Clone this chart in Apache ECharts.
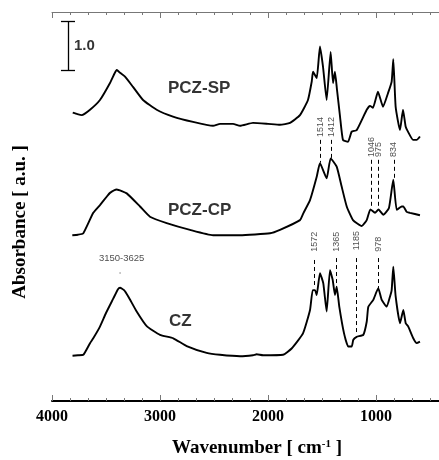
<!DOCTYPE html>
<html><head><meta charset="utf-8">
<script src="https://cdn.jsdelivr.net/npm/echarts/dist/echarts.min.js"></script>
<style>html,body{margin:0;padding:0;background:#fff}#c{width:439px;height:460px}</style>
</head><body><div id="c"></div>
<script>
// Spectra: [wavenumber (cm-1), absorbance (offset)]
const PCZ_SP = [[3808,5.93],[3765,5.90],[3725,5.88],[3648,5.99],[3556,6.19],[3463,6.54],[3420,6.74],[3401,6.81],[3385,6.78],[3370,6.75],[3324,6.67],[3250,6.46],[3157,6.19],[3031,5.99],[2880,5.85],[2694,5.74],[2509,5.66],[2444,5.70],[2324,5.70],[2259,5.66],[2139,5.72],[2000,5.70],[1889,5.68],[1796,5.72],[1704,5.88],[1630,6.19],[1595,6.57],[1583,6.77],[1549,6.64],[1519,7.29],[1491,6.88],[1457,6.19],[1420,7.18],[1398,6.54],[1380,6.77],[1361,6.40],[1333,5.85],[1306,5.37],[1259,5.33],[1225,5.54],[1179,5.57],[1086,5.99],[1056,6.07],[1028,6.03],[982,6.36],[935,6.05],[889,6.33],[855,6.57],[840,7.03],[818,6.05],[778,5.57],[750,5.99],[725,5.64],[704,5.54],[657,5.37],[623,5.37],[593,5.44]];
const PCZ_CP = [[3812,3.41],[3760,3.42],[3710,3.45],[3618,3.87],[3556,4.03],[3494,4.20],[3463,4.28],[3401,4.35],[3308,4.27],[3185,4.00],[3093,3.79],[2938,3.66],[2722,3.52],[2509,3.41],[2259,3.41],[1981,3.45],[1889,3.52],[1704,3.72],[1673,3.86],[1611,4.13],[1549,4.61],[1519,4.89],[1457,4.58],[1420,4.99],[1364,4.82],[1318,4.41],[1271,4.00],[1213,3.72],[1132,3.60],[1086,3.72],[1052,3.94],[1009,3.87],[977,3.94],[933,3.83],[880,3.97],[840,4.55],[808,3.93],[762,4.00],[747,4.00],[716,3.89],[685,3.87],[593,3.82]];
const CZ = [[3810,0.93],[3760,0.94],[3710,0.95],[3648,1.19],[3618,1.29],[3556,1.53],[3500,1.81],[3432,2.11],[3389,2.30],[3370,2.33],[3333,2.28],[3294,2.15],[3216,1.84],[3123,1.54],[3000,1.36],[2877,1.29],[2753,1.13],[2568,0.99],[2444,0.95],[2259,0.92],[2139,0.94],[2105,0.96],[2046,0.94],[1861,0.95],[1781,1.08],[1676,1.39],[1611,1.87],[1586,2.28],[1565,2.28],[1549,2.18],[1519,2.63],[1488,2.42],[1457,1.84],[1426,2.69],[1401,2.49],[1380,2.18],[1364,2.35],[1340,1.94],[1296,1.39],[1257,1.12],[1225,1.12],[1210,1.26],[1179,1.32],[1118,1.36],[1086,1.63],[1071,1.94],[1025,2.08],[979,2.32],[947,2.08],[901,1.94],[870,2.15],[855,2.28],[840,2.76],[818,2.15],[778,1.60],[747,1.87],[725,1.60],[701,1.53],[655,1.29],[623,1.19],[593,1.22]];

// Band annotations
const bandWn      = [1514, 1412, 1046, 975, 834, 1572, 1365, 1185, 978];
const bandTextY   = [5.43, 5.43, 5.02, 5.02, 5.02, 3.07, 3.07, 3.10, 3.07];
const bandLineTop = [5.37, 5.37, 4.96, 4.96, 4.96, 2.90, 2.94, 2.94, 2.94];
const bandLineBot = [4.90, 5.00, 3.99, 3.97, 4.55, 2.35, 2.22, 1.36, 2.32];

// Curve names and positions
const curveNames = ['PCZ-SP', 'PCZ-CP', 'CZ'];
const curveNamePos = [[2926, 6.44], [2926, 3.93], [2917, 1.63]];

// Range note
const rangeNote = '3150-3625';
const rangeNotePos = [3355, 2.94];
const rangeDot = [3370, 2.63];

// Scale bar (1.0 absorbance)
const scaleX = 3852, scaleCapL = 3917, scaleCapR = 3787, scaleLo = 6.8, scaleHi = 7.8;
const scaleLabel = '1.0';

// Axis
const xMin = 0, xMax = 4000, xInterval = 1000;

const chart = echarts.init(document.getElementById('c'), null, {renderer: 'canvas'});

const clear = 'rgba(0,0,0,0)';
const axisBase = {
  type: 'value', inverse: true, min: xMin, max: xMax, interval: xInterval,
  splitLine: {show: false},
  axisTick: {show: true, inside: true, length: 6, lineStyle: {color: '#777', width: 1}},
  minorTick: {show: true, splitNumber: 6, length: 3, lineStyle: {color: '#777', width: 1}},
};

const option = {
  animation: false,
  backgroundColor: '#fff',
  grid: {left: 52, top: 12, width: 432, height: 389, containLabel: false, outerBoundsMode: 'none'},
  xAxis: [
    Object.assign({}, axisBase, {
      position: 'bottom',
      axisLine: {show: true, onZero: false, lineStyle: {color: '#000', width: 2}},
      axisLabel: {show: true, margin: 8, color: '#000', fontFamily: 'Liberation Serif', fontWeight: 'bold', fontSize: 16,
        formatter: v => String(v)}
    }),
    Object.assign({}, axisBase, {
      position: 'top',
      axisLine: {show: true, onZero: false, lineStyle: {color: '#777', width: 1}},
      axisLabel: {show: false}
    })
  ],
  yAxis: {
    type: 'value', min: 0, max: 8,
    axisLine: {show: true, lineStyle: {color: '#777', width: 1}},
    axisTick: {show: false}, axisLabel: {show: false}, splitLine: {show: false}
  },
  series: [
    ...[PCZ_SP, PCZ_CP, CZ].map(d => ({
      type: 'line', data: d, symbol: 'none', smooth: 0.15,
      lineStyle: {color: '#000', width: 1.9}, z: 3
    })),
    {
      type: 'line', data: [], symbol: 'none',
      markLine: {
        silent: true, symbol: 'none', animation: false,
        label: {show: false},
        lineStyle: {color: '#000', width: 1, type: [4, 3]},
        data: bandWn.map((w, i) => [{coord: [w, bandLineTop[i]]}, {coord: [w, bandLineBot[i]]}])
      }
    },
    {
      type: 'line', data: [], symbol: 'none',
      markLine: {
        silent: true, symbol: 'none', animation: false,
        label: {show: false},
        lineStyle: {color: '#000', width: 1.3, type: 'solid'},
        data: [
          [{coord: [scaleCapL, scaleHi]}, {coord: [scaleCapR, scaleHi]}],
          [{coord: [scaleX, scaleHi]}, {coord: [scaleX, scaleLo]}],
          [{coord: [scaleCapL, scaleLo]}, {coord: [scaleCapR, scaleLo]}]
        ]
      }
    },
    {
      // band labels, rotated
      type: 'scatter', symbolSize: 1, itemStyle: {color: clear}, z: 5,
      data: bandWn.map((w, i) => ({value: [w, bandTextY[i]], name: String(w)})),
      label: {
        show: true, rotate: 90, position: 'inside', align: 'left', verticalAlign: 'middle',
        formatter: p => p.name, color: '#222', fontFamily: 'Liberation Sans', fontSize: 9
      }
    },
    {
      // curve names
      type: 'scatter', symbolSize: 1, itemStyle: {color: clear}, z: 5,
      data: curveNames.map((n, i) => ({value: curveNamePos[i], name: n})),
      label: {
        show: true, position: 'inside', align: 'left', verticalAlign: 'middle',
        formatter: p => p.name, color: '#000', fontFamily: 'Liberation Sans', fontWeight: 'bold', fontSize: 17
      }
    },
    {
      // range note + scale label
      type: 'scatter', symbolSize: 1, itemStyle: {color: clear}, z: 5,
      data: [
        {value: rangeNotePos, name: rangeNote, label: {align: 'center', fontSize: 9.5, fontWeight: 'normal', color: '#222'}},
        {value: [scaleCapR + 9, (scaleLo + scaleHi) / 2], name: scaleLabel, label: {align: 'left', fontSize: 15, fontWeight: 'bold', color: '#000'}}
      ],
      label: {
        show: true, position: 'inside', verticalAlign: 'middle',
        formatter: p => p.name, fontFamily: 'Liberation Sans'
      }
    },
    {
      type: 'scatter', symbolSize: 1.5, itemStyle: {color: '#666'},
      data: [rangeDot]
    }
  ],
  graphic: [
    {
      type: 'text', x: 257, y: 448,
      style: {
        text: '{a|Wavenumber [ cm}{s|-1}{a| ]}',
        textAlign: 'center', textVerticalAlign: 'middle',
        rich: {
          a: {fontFamily: 'Liberation Serif', fontWeight: 'bold', fontSize: 19, fill: '#000', color: '#000'},
          s: {fontFamily: 'Liberation Serif', fontWeight: 'bold', fontSize: 11, fill: '#000', color: '#000', verticalAlign: 'top', padding: [0, 0, 8, 0]}
        }
      }
    },
    {
      type: 'text', x: 20, y: 222, rotation: Math.PI / 2,
      style: {
        text: 'Absorbance [ a.u. ]',
        textAlign: 'center', textVerticalAlign: 'middle',
        fontFamily: 'Liberation Serif', fontWeight: 'bold', fontSize: 19, fill: '#000'
      }
    }
  ]
};
chart.setOption(option);
</script></body></html>
